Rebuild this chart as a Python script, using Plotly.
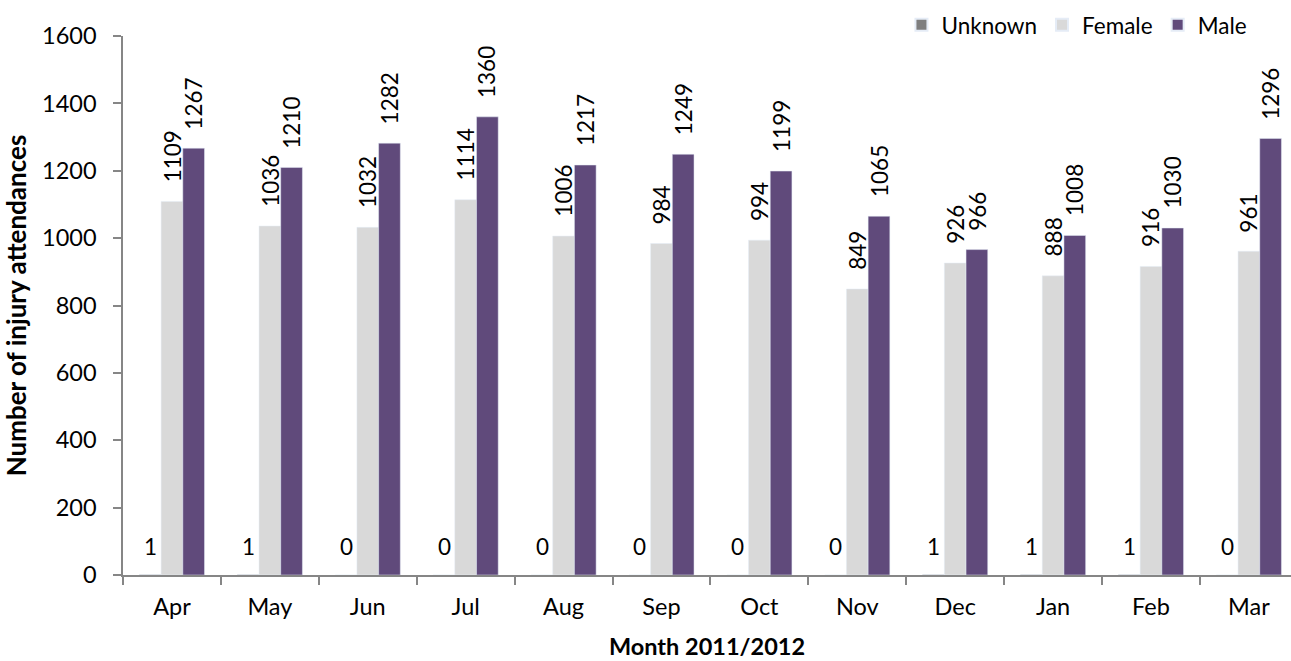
import plotly.graph_objects as go

months = ["Apr", "May", "Jun", "Jul", "Aug", "Sep", "Oct", "Nov", "Dec", "Jan", "Feb", "Mar"]
unknown = [1, 1, 0, 0, 0, 0, 0, 0, 1, 1, 1, 0]
female = [1109, 1036, 1032, 1114, 1006, 984, 994, 849, 926, 888, 916, 961]
male = [1267, 1210, 1282, 1360, 1217, 1249, 1199, 1065, 966, 1008, 1030, 1296]

FONT = "Lato"
FS = 23.5
LFS = 22.5
C_UNK = "#7F7F7F"
C_FEM = "#D9D9D9"
C_MAL = "#604A7B"

fig = go.Figure()
fig.add_trace(go.Bar(name="Unknown", x=months, y=unknown, marker_color=C_UNK))
fig.add_trace(go.Bar(name="Female", x=months, y=female, marker_color=C_FEM))
fig.add_trace(go.Bar(name="Male", x=months, y=male, marker_color=C_MAL))

# data labels
ann = []
shift = 21.5
for m, u, f, ml in zip(months, unknown, female, male):
    ann.append(dict(x=m, y=u, xref="x", yref="y", text=str(u), showarrow=False,
                    xshift=-shift, yshift=13, yanchor="bottom", xanchor="center",
                    font=dict(family=FONT, size=LFS, color="#000")))
    ann.append(dict(x=m, y=f, xref="x", yref="y", text=str(f), showarrow=False,
                    xshift=0, yshift=17, yanchor="bottom", xanchor="center", textangle=-90,
                    font=dict(family=FONT, size=LFS, color="#000")))
    ann.append(dict(x=m, y=ml, xref="x", yref="y", text=str(ml), showarrow=False,
                    xshift=shift, yshift=17, yanchor="bottom", xanchor="center", textangle=-90,
                    font=dict(family=FONT, size=LFS, color="#000")))

fig.update_layout(
    width=1291, height=661,
    margin=dict(l=123, r=0, t=36, b=86, autoexpand=False),
    paper_bgcolor="white", plot_bgcolor="white",
    barmode="group", bargap=0.335, bargroupgap=0,
    font=dict(family=FONT, size=FS, color="#000"),
    annotations=ann,
    legend=dict(orientation="h", x=0.967, xanchor="right", y=1.02, yanchor="middle",
                font=dict(family=FONT, size=22.5), itemsizing="constant",
                bgcolor="rgba(0,0,0,0)", traceorder="normal", itemwidth=30),
    xaxis=dict(range=[-0.5, 11.43], showline=True, linecolor="#868686", linewidth=1.5,
               ticks="outside", tickson="boundaries", ticklen=8, tickcolor="#868686", tickwidth=1.5,
               showgrid=False, tickfont=dict(family=FONT, size=FS), automargin=False,
               ticklabelstandoff=10,
               title=dict(text="<b>Month 2011/2012</b>", font=dict(family=FONT, size=FS), standoff=20)),
    yaxis=dict(range=[0, 1600], dtick=200, showline=True, linecolor="#868686", linewidth=1.5,
               ticks="outside", ticklen=8, tickcolor="#868686", tickwidth=1.5,
               showgrid=False, zeroline=False, tickfont=dict(family=FONT, size=FS),
               ticklabelstandoff=12, automargin=False,
               title=dict(text="<b>Number of injury attendances</b>", font=dict(family=FONT, size=26), standoff=12)),
)

fig.write_html("out.html", config={"displayModeBar": False},
               post_script="document.body.style.margin='0';")
